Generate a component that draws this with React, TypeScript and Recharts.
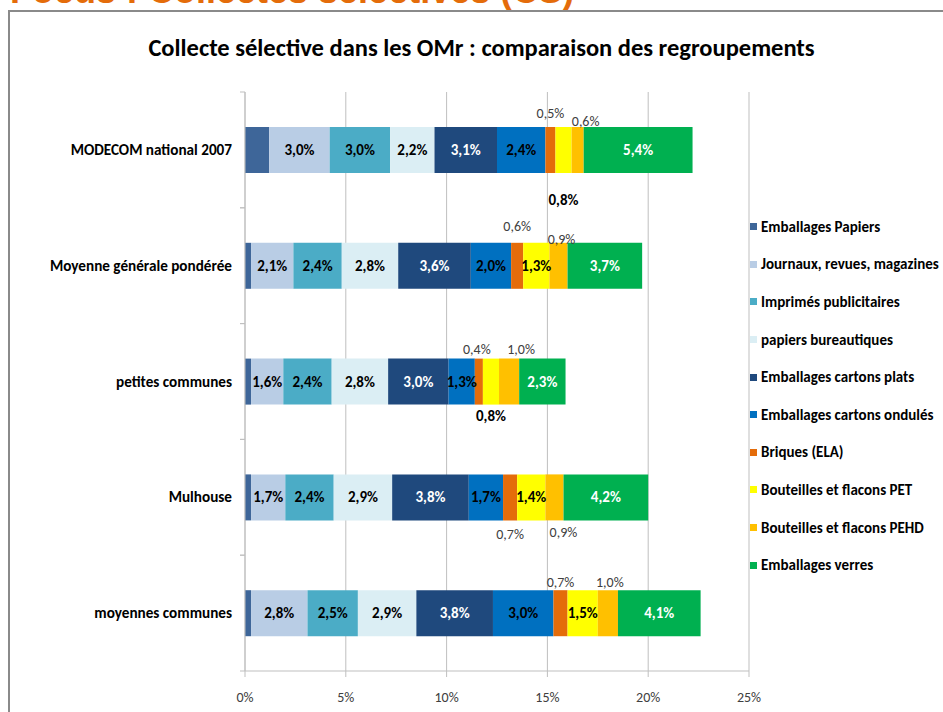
import React from 'react';
import { BarChart, Bar, XAxis, YAxis, CartesianGrid, LabelList, Legend } from 'recharts';

const categories = [
  'MODECOM national 2007',
  'Moyenne générale pondérée ',
  'petites communes',
  'Mulhouse',
  'moyennes communes',
];
const emballagesPapiers = [1.2, 0.3, 0.3, 0.3, 0.3];
const journaux = [3.0, 2.1, 1.6, 1.7, 2.8];
const imprimes = [3.0, 2.4, 2.4, 2.4, 2.5];
const bureautiques = [2.2, 2.8, 2.8, 2.9, 2.9];
const cartonsPlats = [3.1, 3.6, 3.0, 3.8, 3.8];
const cartonsOndules = [2.4, 2.0, 1.3, 1.7, 3.0];
const briques = [0.5, 0.6, 0.4, 0.7, 0.7];
const bouteillesPET = [0.8, 1.3, 0.8, 1.4, 1.5];
const bouteillesPEHD = [0.6, 0.9, 1.0, 0.9, 1.0];
const verres = [5.4, 3.7, 2.3, 4.2, 4.1];
const xTicks = [0, 5, 10, 15, 20, 25];

const TITLE = 'Collecte sélective dans les OMr : comparaison des regroupements';
const HEADER = 'Focus : Collectes sélectives (CS)';
const FONT = "Carlito, 'Liberation Sans Narrow', 'DejaVu Sans Condensed', 'Open Sans', sans-serif";

// label placement per row: null = none, 0 = inside, other = vertical offset from bar centre
type Series = {
  key: string;
  name: string;
  color: string;
  values: number[];
  inColor: string;
  outBold: boolean;
  labelDy: (number | null)[];
  labelDx?: number[];
};

const series: Series[] = [
  { key: 'papiers', name: 'Emballages Papiers', color: '#3E6699', values: emballagesPapiers, inColor: '#000', outBold: false, labelDy: [null, null, null, null, null] },
  { key: 'journaux', name: 'Journaux, revues, magazines', color: '#B9CDE5', values: journaux, inColor: '#000', outBold: false, labelDy: [0, 0, 0, 0, 0] },
  { key: 'imprimes', name: 'Imprimés publicitaires', color: '#4BACC6', values: imprimes, inColor: '#000', outBold: false, labelDy: [0, 0, 0, 0, 0] },
  { key: 'bureau', name: 'papiers bureautiques', color: '#DBEEF4', values: bureautiques, inColor: '#000', outBold: false, labelDy: [0, 0, 0, 0, 0] },
  { key: 'plats', name: 'Emballages cartons plats', color: '#1F497D', values: cartonsPlats, inColor: '#FFFFFF', outBold: false, labelDy: [0, 0, 0, 0, 0] },
  { key: 'ondules', name: 'Emballages cartons ondulés', color: '#0070C0', values: cartonsOndules, inColor: '#000', outBold: false, labelDy: [0, 0, 0, 0, 0] },
  { key: 'briques', name: 'Briques (ELA)', color: '#E46C0A', values: briques, inColor: '#000', outBold: false, labelDy: [-37, -39, -32, 37, -31], labelDx: [0, 0, -2, 0, 0] },
  { key: 'pet', name: 'Bouteilles et flacons PET', color: '#FFFF00', values: bouteillesPET, inColor: '#000', outBold: true, labelDy: [50, 0, 34, 0, 0] },
  { key: 'pehd', name: 'Bouteilles et flacons PEHD', color: '#FFC000', values: bouteillesPEHD, inColor: '#000', outBold: false, labelDy: [-29, -26, -32, 35, -31], labelDx: [8, 3, 12, 9, 2] },
  { key: 'verres', name: 'Emballages verres', color: '#00B050', values: verres, inColor: '#FFFFFF', outBold: false, labelDy: [0, 0, 0, 0, 0] },
];

const data = categories.map((c, i) => {
  const row: Record<string, string | number> = { category: c };
  series.forEach((s) => {
    row[s.key] = s.values[i];
  });
  return row;
});

const fmt = (v: number) => v.toFixed(1).replace('.', ',') + '%';

const makeLabel = (s: Series) => (props: any) => {
  const vb = props.viewBox || {};
  const x = props.x ?? vb.x;
  const y = props.y ?? vb.y;
  const w = props.width ?? vb.width;
  const h = props.height ?? vb.height;
  const idx = props.index;
  if (idx == null || x == null) return null;
  const dy = s.labelDy[idx];
  if (dy == null) return null;
  const dx = s.labelDx ? s.labelDx[idx] : 0;
  const cx = x + w / 2;
  const cy = y + h / 2;
  const inside = dy === 0;
  return (
    <text
      x={cx + dx}
      y={cy + dy}
      textAnchor="middle"
      dominantBaseline="central"
      fontFamily={FONT}
      fontSize={inside || s.outBold ? 15 : 14}
      fontWeight={inside || s.outBold ? 'bold' : 'normal'}
      fill={inside ? s.inColor : s.outBold ? '#000' : '#404040'}
    >
      {fmt(Number(props.value))}
    </text>
  );
};

const CategoryTick = (props: any) => {
  const { x, y, payload } = props;
  const half = 57.9;
  return (
    <g>
      <line x1={x + 8} x2={x + 13} y1={y - half} y2={y - half} stroke="#BFBFBF" />
      <line x1={x + 8} x2={x + 13} y1={y + half} y2={y + half} stroke="#BFBFBF" />
      <text x={x} y={y} textAnchor="end" dominantBaseline="central" fontFamily={FONT} fontSize={15.2} fontWeight="bold" fill="#000">
        {payload.value}
      </text>
    </g>
  );
};

const renderLegend = () => (
  <div style={{ fontFamily: FONT, fontSize: 15, fontWeight: 'bold', color: '#000' }}>
    {series.map((s) => (
      <div key={s.key} style={{ height: 37.6, display: 'flex', alignItems: 'center', whiteSpace: 'nowrap' }}>
        <span style={{ display: 'inline-block', width: 7, height: 7, background: s.color, marginRight: 4 }} />
        <span>{s.name}</span>
      </div>
    ))}
  </div>
);

export default function App() {
  return (
    <div style={{ position: 'absolute', left: 0, top: 0, width: 943, height: 712, overflow: 'hidden', background: '#fff' }}>
      <div
        style={{
          position: 'absolute',
          left: 10,
          top: -27,
          fontFamily: "'Liberation Sans', Arial, sans-serif",
          fontWeight: 'bold',
          fontSize: 36,
          lineHeight: '36px',
          color: '#E46C0A',
          whiteSpace: 'nowrap',
        }}
      >
        {HEADER}
      </div>
      <div
        style={{
          position: 'absolute',
          left: 8,
          top: 10,
          width: 1000,
          height: 800,
          borderTop: '2px solid #8A8A8A',
          borderLeft: '2px solid #8A8A8A',
        }}
      />
      <div
        style={{
          position: 'absolute',
          left: 0,
          top: 32,
          width: 963,
          textAlign: 'center',
          fontFamily: FONT,
          fontSize: 24.5,
          fontWeight: 'bold',
          lineHeight: '32px',
          color: '#000',
          whiteSpace: 'nowrap',
        }}
      >
        {TITLE}
      </div>
      <div style={{ position: 'absolute', left: 0, top: 0 }}>
        <BarChart
          width={943}
          height={712}
          data={data}
          layout="vertical"
          margin={{ top: 92, right: 194, bottom: 11, left: 10 }}
        >
          <CartesianGrid horizontal={false} vertical={true} stroke="#BFBFBF" />
          <XAxis
            type="number"
            domain={[0, 25]}
            ticks={xTicks}
            tickFormatter={(v: number) => v + '%'}
            axisLine={{ stroke: '#BFBFBF' }}
            tickLine={{ stroke: '#BFBFBF' }}
            tickSize={6}
            tickMargin={15}
            height={30}
            tick={{ fill: '#404040', fontSize: 14, fontFamily: FONT }}
          />
          <YAxis
            type="category"
            dataKey="category"
            width={235}
            axisLine={{ stroke: '#BFBFBF' }}
            tickLine={false}
            tickSize={0}
            tickMargin={13}
            tick={<CategoryTick />}
            interval={0}
          />
          <Legend
            layout="vertical"
            align="center"
            verticalAlign="middle"
            content={renderLegend}
            wrapperStyle={{ left: 750, top: 208, width: 195 }}
          />
          {series.map((s) => (
            <Bar
              key={s.key}
              dataKey={s.key}
              name={s.name}
              stackId="a"
              fill={s.color}
              barSize={46}
              isAnimationActive={false}
            >
              <LabelList dataKey={s.key} content={makeLabel(s)} />
            </Bar>
          ))}
        </BarChart>
      </div>
    </div>
  );
}
